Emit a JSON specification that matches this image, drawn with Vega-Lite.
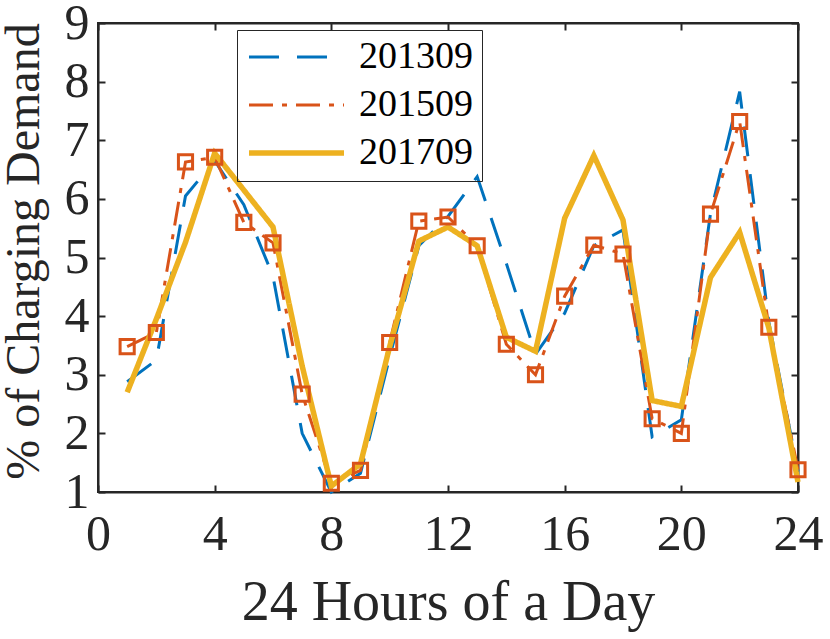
{
  "$schema": "https://vega.github.io/schema/vega-lite/v6.json",
  "background": "white",
  "autosize": "none",
  "padding": {"left": 98, "top": 23, "right": 32, "bottom": 147},
  "width": 700,
  "height": 469,
  "data": {
    "values": [
      {"hour": 1, "series": "201309", "value": 2.88},
      {"hour": 2, "series": "201309", "value": 3.25},
      {"hour": 3, "series": "201309", "value": 6.05},
      {"hour": 4, "series": "201309", "value": 6.65},
      {"hour": 5, "series": "201309", "value": 5.9},
      {"hour": 6, "series": "201309", "value": 4.68},
      {"hour": 7, "series": "201309", "value": 2.0},
      {"hour": 8, "series": "201309", "value": 1.0},
      {"hour": 9, "series": "201309", "value": 1.32},
      {"hour": 10, "series": "201309", "value": 3.3},
      {"hour": 11, "series": "201309", "value": 5.2},
      {"hour": 12, "series": "201309", "value": 5.7},
      {"hour": 13, "series": "201309", "value": 6.38},
      {"hour": 14, "series": "201309", "value": 4.9},
      {"hour": 15, "series": "201309", "value": 3.35},
      {"hour": 16, "series": "201309", "value": 4.05},
      {"hour": 17, "series": "201309", "value": 5.2},
      {"hour": 18, "series": "201309", "value": 5.47},
      {"hour": 19, "series": "201309", "value": 1.94},
      {"hour": 20, "series": "201309", "value": 2.23},
      {"hour": 21, "series": "201309", "value": 5.75},
      {"hour": 22, "series": "201309", "value": 7.83},
      {"hour": 23, "series": "201309", "value": 3.9},
      {"hour": 24, "series": "201309", "value": 1.35},
      {"hour": 1, "series": "201509", "value": 3.48},
      {"hour": 2, "series": "201509", "value": 3.72},
      {"hour": 3, "series": "201509", "value": 6.63},
      {"hour": 4, "series": "201509", "value": 6.71},
      {"hour": 5, "series": "201509", "value": 5.6},
      {"hour": 6, "series": "201509", "value": 5.25},
      {"hour": 7, "series": "201509", "value": 2.67},
      {"hour": 8, "series": "201509", "value": 1.15},
      {"hour": 9, "series": "201509", "value": 1.37},
      {"hour": 10, "series": "201509", "value": 3.55},
      {"hour": 11, "series": "201509", "value": 5.62},
      {"hour": 12, "series": "201509", "value": 5.69},
      {"hour": 13, "series": "201509", "value": 5.2},
      {"hour": 14, "series": "201509", "value": 3.52},
      {"hour": 15, "series": "201509", "value": 3.0},
      {"hour": 16, "series": "201509", "value": 4.34},
      {"hour": 17, "series": "201509", "value": 5.21},
      {"hour": 18, "series": "201509", "value": 5.06},
      {"hour": 19, "series": "201509", "value": 2.25},
      {"hour": 20, "series": "201509", "value": 2.0},
      {"hour": 21, "series": "201509", "value": 5.74},
      {"hour": 22, "series": "201509", "value": 7.32},
      {"hour": 23, "series": "201509", "value": 3.81},
      {"hour": 24, "series": "201509", "value": 1.38},
      {"hour": 1, "series": "201709", "value": 2.7},
      {"hour": 2, "series": "201709", "value": 3.95},
      {"hour": 3, "series": "201709", "value": 5.26},
      {"hour": 4, "series": "201709", "value": 6.78},
      {"hour": 5, "series": "201709", "value": 6.15},
      {"hour": 6, "series": "201709", "value": 5.52},
      {"hour": 7, "series": "201709", "value": 3.15},
      {"hour": 8, "series": "201709", "value": 1.1},
      {"hour": 9, "series": "201709", "value": 1.48},
      {"hour": 10, "series": "201709", "value": 3.48},
      {"hour": 11, "series": "201709", "value": 5.28},
      {"hour": 12, "series": "201709", "value": 5.52},
      {"hour": 13, "series": "201709", "value": 5.2},
      {"hour": 14, "series": "201709", "value": 3.64},
      {"hour": 15, "series": "201709", "value": 3.4},
      {"hour": 16, "series": "201709", "value": 5.67},
      {"hour": 17, "series": "201709", "value": 6.74},
      {"hour": 18, "series": "201709", "value": 5.64},
      {"hour": 19, "series": "201709", "value": 2.56},
      {"hour": 20, "series": "201709", "value": 2.46},
      {"hour": 21, "series": "201709", "value": 4.66},
      {"hour": 22, "series": "201709", "value": 5.43},
      {"hour": 23, "series": "201709", "value": 3.8},
      {"hour": 24, "series": "201709", "value": 1.17}
    ]
  },
  "config": {
    "view": {"stroke": "#262626", "strokeWidth": 2},
    "font": "Liberation Serif",
    "axis": {
      "domainColor": "#262626",
      "domainWidth": 2,
      "tickColor": "#262626",
      "tickWidth": 2,
      "tickSize": -7,
      "grid": false,
      "labelFlush": false,
      "labelFont": "Liberation Serif",
      "labelFontSize": 50,
      "labelColor": "#262626",
      "titleFont": "Liberation Serif",
      "titleFontWeight": "normal",
      "titleColor": "#262626"
    },
    "legend": {
      "orient": "none",
      "legendX": 139,
      "legendY": 7,
      "direction": "vertical",
      "strokeColor": "#262626",
      "padding": 9,
      "symbolType": "stroke",
      "symbolSize": 9025,
      "clipHeight": 36,
      "rowPadding": 10,
      "labelFont": "Liberation Serif",
      "labelFontSize": 38,
      "labelColor": "black",
      "labelOffset": 12,
      "title": null
    }
  },
  "resolve": {"axis": {"x": "independent", "y": "independent"}},
  "layer": [
    {
      "mark": {"type": "line"},
      "encoding": {
        "x": {
          "field": "hour",
          "type": "quantitative",
          "scale": {"domain": [0, 24], "nice": false},
          "axis": {
            "values": [0, 4, 8, 12, 16, 20, 24],
            "title": "24 Hours of a Day",
            "titleFontSize": 56,
            "labelPadding": 24,
            "titleY": 127,
            "titleBaseline": "alphabetic"
          }
        },
        "y": {
          "field": "value",
          "type": "quantitative",
          "scale": {"domain": [1, 9], "nice": false, "zero": false},
          "axis": {
            "values": [1, 2, 3, 4, 5, 6, 7, 8, 9],
            "title": "% of Charging Demand",
            "titleFontSize": 48,
            "labelPadding": 16,
            "titleX": -60,
            "titleY": 228,
            "titleAngle": 270,
            "titleAlign": "center",
            "titleBaseline": "alphabetic"
          }
        },
        "color": {
          "field": "series",
          "type": "nominal",
          "scale": {"domain": ["201309", "201509", "201709"], "range": ["#0072BD", "#D95319", "#EDB120"]}
        },
        "strokeDash": {
          "field": "series",
          "type": "nominal",
          "scale": {"domain": ["201309", "201509", "201709"], "range": [[30, 18], [24, 9, 5, 9], [1, 0]]}
        },
        "strokeWidth": {
          "field": "series",
          "type": "ordinal",
          "scale": {"type": "ordinal", "domain": ["201309", "201509", "201709"], "range": [3, 3, 5.5]}
        }
      }
    },
    {
      "transform": [{"filter": "datum.series == '201509'"}],
      "mark": {"type": "point", "shape": "square", "filled": false, "size": 200, "strokeWidth": 3, "color": "#D95319", "opacity": 1},
      "encoding": {
        "x": {
          "field": "hour",
          "type": "quantitative",
          "scale": {"domain": [0, 24], "nice": false},
          "axis": {"orient": "top", "values": [0, 4, 8, 12, 16, 20, 24], "labels": false, "title": null}
        },
        "y": {
          "field": "value",
          "type": "quantitative",
          "scale": {"domain": [1, 9], "nice": false, "zero": false},
          "axis": {"orient": "right", "values": [1, 2, 3, 4, 5, 6, 7, 8, 9], "labels": false, "title": null}
        }
      }
    }
  ]
}
